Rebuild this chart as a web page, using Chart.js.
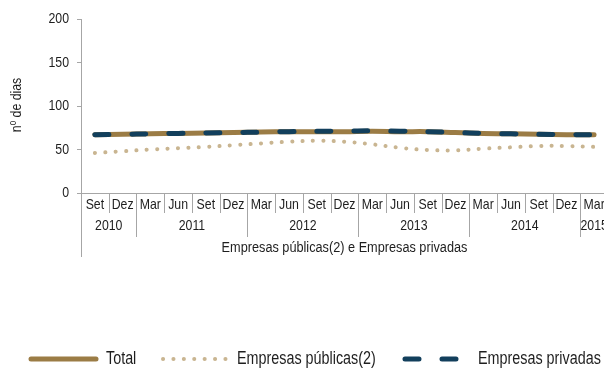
<!DOCTYPE html>
<html>
<head>
<meta charset="utf-8">
<title>Prazo médio de pagamentos</title>
<script src="https://cdn.jsdelivr.net/npm/chart.js@4.4.1/dist/chart.umd.min.js"></script>
<style>
    html, body { margin: 0; padding: 0; background: #fff; overflow: hidden; }
    #wrap { width: 612px; height: 371px; }
</style>
</head>
<body>
<div id="wrap"><canvas id="prazosChart" width="612" height="371"></canvas></div>
<script>
// Quarterly series, Set 2010 to Mar 2015
const months = ['Set', 'Dez', 'Mar', 'Jun', 'Set', 'Dez', 'Mar', 'Jun', 'Set', 'Dez',
                'Mar', 'Jun', 'Set', 'Dez', 'Mar', 'Jun', 'Set', 'Dez', 'Mar'];
const years = ['2010', '2011', '2012', '2013', '2014', '2015'];
const yearSpans = [2, 4, 4, 4, 4, 1];
const yTicks = [0, 50, 100, 150, 200];

const total    = [67, 67.5, 68, 68.5, 69, 69.5, 70, 70.5, 70.5, 70.5, 71, 70.5, 70.5, 69.5, 68.5, 68, 67.5, 67, 67];
const publicas = [46, 48, 50, 51.5, 53, 55, 57, 59, 60, 59, 56, 52, 49.5, 49, 51, 52.5, 54, 54, 53];
const privadas = [67, 67.5, 68, 68.5, 69, 69.5, 70, 70.5, 71, 71, 71.5, 71, 70.5, 69.5, 68.5, 68, 67.5, 67, 67];

const seriesNames = ['Total', 'Empresas públicas(2)', 'Empresas privadas'];
const axisTitleX = 'Empresas públicas(2) e Empresas privadas';
const axisTitleY = 'nº de dias';

const FONT = '"Liberation Sans", Arial, sans-serif';
const SQUEEZE = 0.82; // narrow lettering
const COLORS = {
    total: '#9b7c45',
    publicas: '#c9b591',
    privadas: '#123f5c',
    axis: '#a6a6a6',
    text: '#1e1e1e'
};

function narrowText(ctx, str, x, y, size, align, rotate) {
    ctx.save();
    ctx.translate(x, y);
    if (rotate) ctx.rotate(-Math.PI / 2);
    ctx.scale(SQUEEZE, 1);
    ctx.font = size + 'px ' + FONT;
    ctx.fillStyle = COLORS.text;
    ctx.textAlign = align;
    ctx.textBaseline = 'middle';
    ctx.fillText(str, 0, 0);
    ctx.restore();
}

// Tick labels, month separators, year groups and axis titles
const axisLabels = {
    id: 'axisLabels',
    afterDraw(chart) {
        const ctx = chart.ctx;
        const x = chart.scales.x;
        const y = chart.scales.y;
        const area = chart.chartArea;
        const bottom = area.bottom;
        const edge = i => i === 0 ? area.left : (x.getPixelForValue(i - 1) + x.getPixelForValue(i)) / 2;

        const yearStarts = [];
        let acc = 0;
        yearSpans.forEach(n => { yearStarts.push(acc); acc += n; });

        ctx.save();
        ctx.strokeStyle = COLORS.axis;
        ctx.lineWidth = 1;
        for (let i = 0; i <= months.length; i++) {
            const px = Math.round(edge(i)) + 0.5;
            let len = 20;
            if (yearStarts.includes(i)) len = 44;
            if (i === 0) len = 64;
            ctx.beginPath();
            ctx.moveTo(px, bottom);
            ctx.lineTo(px, bottom + len);
            ctx.stroke();
        }
        ctx.restore();

        yTicks.forEach(v => narrowText(ctx, String(v), area.left - 12, y.getPixelForValue(v), 15, 'right'));
        narrowText(ctx, axisTitleY, 17, 105, 15, 'center', true);

        months.forEach((m, i) => narrowText(ctx, m, x.getPixelForValue(i), bottom + 12, 15, 'center'));
        years.forEach((yr, k) => {
            const first = yearStarts[k];
            const last = first + yearSpans[k] - 1;
            const cx = (x.getPixelForValue(first) + x.getPixelForValue(last)) / 2;
            narrowText(ctx, yr, cx, bottom + 33, 15, 'center');
        });
        narrowText(ctx, axisTitleX, (area.left + area.right) / 2, bottom + 55, 15.5, 'center');
    }
};

// Legend row along the bottom edge
const bottomLegend = {
    id: 'bottomLegend',
    afterDraw(chart) {
        const ctx = chart.ctx;
        const y = 359;
        ctx.save();
        ctx.lineCap = 'round';

        ctx.strokeStyle = COLORS.total;
        ctx.lineWidth = 5;
        ctx.beginPath();
        ctx.moveTo(31, y);
        ctx.lineTo(96, y);
        ctx.stroke();

        ctx.strokeStyle = COLORS.publicas;
        ctx.lineWidth = 4;
        ctx.setLineDash([0.1, 10.3]);
        ctx.beginPath();
        ctx.moveTo(163, y);
        ctx.lineTo(227, y);
        ctx.stroke();

        ctx.strokeStyle = COLORS.privadas;
        ctx.lineWidth = 5;
        ctx.setLineDash([14, 23]);
        ctx.beginPath();
        ctx.moveTo(405, y);
        ctx.lineTo(460, y);
        ctx.stroke();
        ctx.restore();

        narrowText(ctx, seriesNames[0], 106, y, 17.5, 'left');
        narrowText(ctx, seriesNames[1], 237, y, 17.5, 'left');
        narrowText(ctx, seriesNames[2], 478, y, 17.5, 'left');
    }
};

const ctx = document.getElementById('prazosChart').getContext('2d');
new Chart(ctx, {
    type: 'line',
    data: {
        labels: months,
        datasets: [{
            label: seriesNames[2],
            data: privadas,
            borderColor: COLORS.privadas,
            borderWidth: 5,
            borderDash: [14, 23],
            borderCapStyle: 'round',
            tension: 0.4,
            pointRadius: 0,
            order: 0
        }, {
            label: seriesNames[1],
            data: publicas,
            borderColor: COLORS.publicas,
            borderWidth: 4,
            borderDash: [0.1, 10.3],
            borderCapStyle: 'round',
            tension: 0.4,
            pointRadius: 0,
            order: 1
        }, {
            label: seriesNames[0],
            data: total,
            borderColor: COLORS.total,
            borderWidth: 5,
            borderCapStyle: 'round',
            tension: 0.4,
            pointRadius: 0,
            order: 2
        }]
    },
    options: {
        responsive: false,
        animation: false,
        devicePixelRatio: 1,
        layout: {
            padding: { top: 19, right: 4, left: 0, bottom: 0 }
        },
        plugins: {
            legend: { display: false },
            tooltip: { enabled: false }
        },
        scales: {
            x: {
                offset: true,
                grid: { display: false },
                border: { display: true, color: COLORS.axis, width: 1 },
                ticks: { display: false, autoSkip: false },
                afterFit(scale) { scale.height = 178; }
            },
            y: {
                min: 0,
                max: 200,
                afterBuildTicks(scale) { scale.ticks = yTicks.map(v => ({ value: v })); },
                grid: { drawOnChartArea: false, tickLength: 4, color: COLORS.axis },
                border: { display: true, color: COLORS.axis, width: 1 },
                ticks: { display: false },
                afterFit(scale) { scale.width = 81; }
            }
        }
    },
    plugins: [axisLabels, bottomLegend]
});
</script>
</body>
</html>
